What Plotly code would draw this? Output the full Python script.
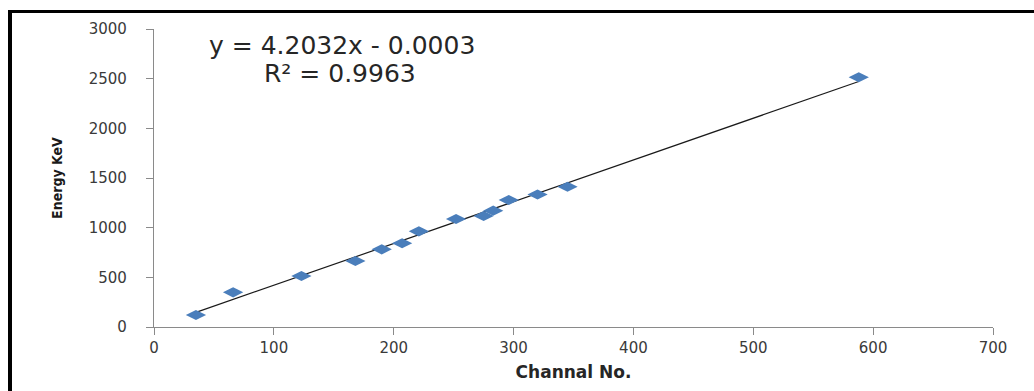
import plotly.graph_objects as go

# Calibration points: channel number vs. gamma energy (keV)
channel = [35, 66, 123, 168, 190, 207, 221, 252, 275, 283, 296, 320, 345, 588]
energy = [121, 349, 513, 664, 782, 843, 963, 1087, 1117, 1171, 1278, 1334, 1412, 2514]

# Linear trendline coefficients
slope = 4.2032
intercept = -0.0003
r_squared = 0.9963

x_ticks = [0, 100, 200, 300, 400, 500, 600, 700]
y_ticks = [0, 500, 1000, 1500, 2000, 2500, 3000]

W, H = 1034, 391
ML, MR, MT, MB = 154, 41, 29, 64
PW, PH = W - ML - MR, H - MT - MB


def px_x(p):
    return (p - ML) / PW


def px_y(p):
    return (H - MB - p) / PH


trend_x = [min(channel), max(channel)]
trend_y = [slope * v + intercept for v in trend_x]

fig = go.Figure()
fig.add_trace(go.Scatter(
    x=trend_x, y=trend_y, mode="lines",
    line=dict(color="#1a1a1a", width=1.2),
    hoverinfo="skip", showlegend=False,
))
fig.add_trace(go.Scatter(
    x=channel, y=energy, mode="markers",
    marker=dict(symbol="diamond-wide", size=14.5, color="#4A7EBB",
                line=dict(width=0)),
    showlegend=False,
))

axis_common = dict(
    showline=True, linecolor="#8a8a8a", linewidth=1.3,
    ticks="outside", ticklen=7, tickcolor="#8a8a8a", tickwidth=1.3,
    showgrid=False, zeroline=False,
    tickfont=dict(family="DejaVu Sans", size=15, color="#3a3a3a"),
)

fig.update_xaxes(
    range=[0, 700], tickvals=x_ticks, **axis_common,
    title=dict(text="<b>Channal No.</b>", standoff=9,
               font=dict(family="DejaVu Sans", size=17, color="#262626")),
)
fig.update_yaxes(
    range=[0, 3000], tickvals=y_ticks, **axis_common,
    ticklabelstandoff=16,
    title=dict(text="<b>Energy KeV</b>", standoff=22,
               font=dict(family="DejaVu Sans Condensed, Roboto, Liberation Sans, sans-serif",
                         size=14, color="#1a1a1a")),
)

eq_font = dict(family="DejaVu Sans", size=25, color="#262626")
fig.add_annotation(
    xref="paper", yref="paper", x=px_x(342), y=px_y(45),
    text=f"y = {slope}x - {abs(intercept):.4f}", showarrow=False,
    xanchor="center", yanchor="middle", font=eq_font,
)
fig.add_annotation(
    xref="paper", yref="paper", x=px_x(340), y=px_y(73),
    text=f"R² = {r_squared}", showarrow=False,
    xanchor="center", yanchor="middle", font=eq_font,
)

# Frame lines along the top and left edges
fig.add_shape(type="line", xref="paper", yref="paper",
              x0=px_x(8), x1=px_x(W), y0=px_y(11.5), y1=px_y(11.5),
              line=dict(color="black", width=3))
fig.add_shape(type="line", xref="paper", yref="paper",
              x0=px_x(10), x1=px_x(10), y0=px_y(10), y1=px_y(H + 2),
              line=dict(color="black", width=4))

fig.update_layout(
    width=W, height=H,
    margin=dict(l=ML, r=MR, t=MT, b=MB, pad=0),
    paper_bgcolor="white", plot_bgcolor="white",
    showlegend=False,
)

fig.write_html("out.html")
